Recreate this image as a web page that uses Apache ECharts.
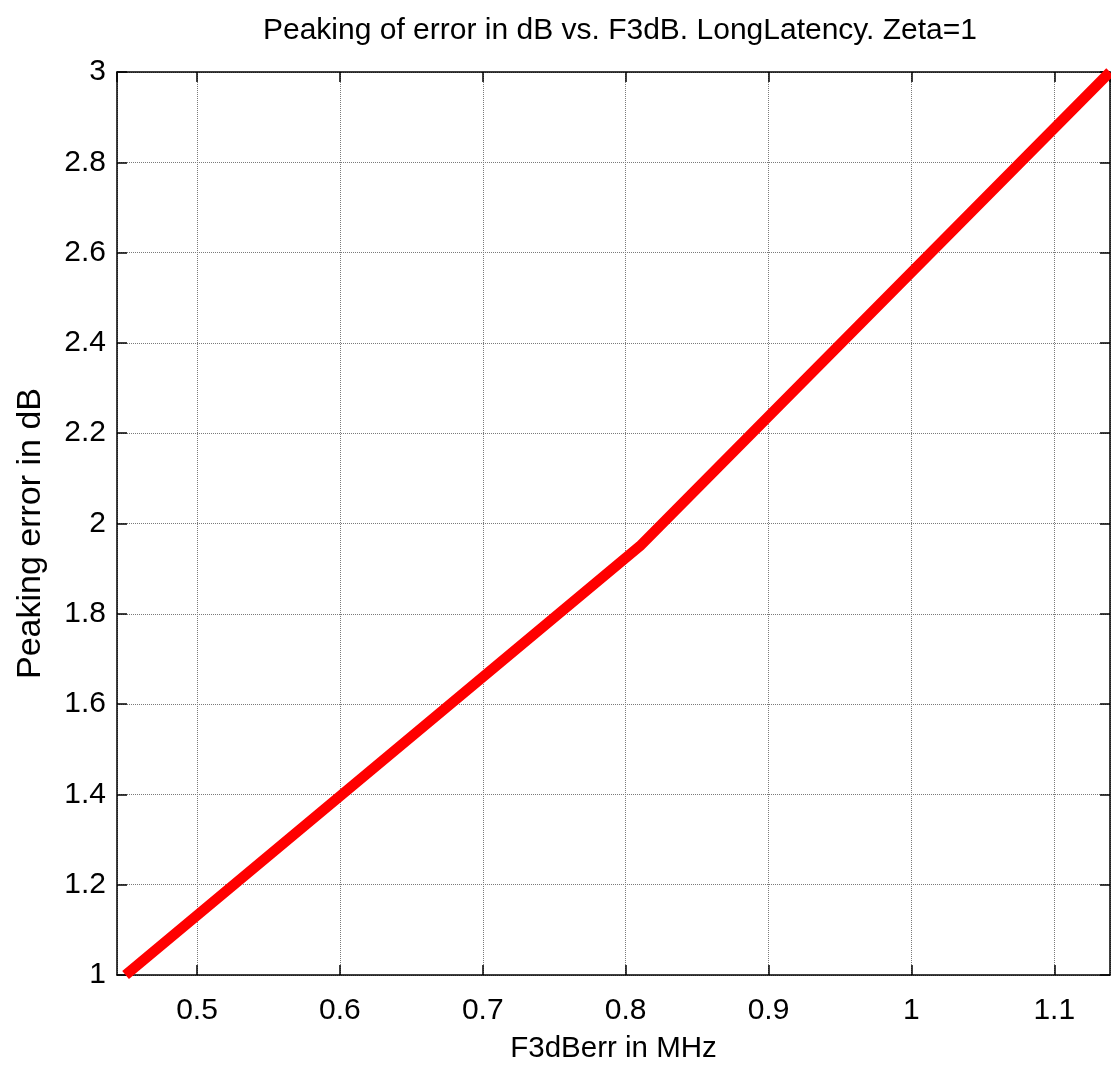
<!DOCTYPE html>
<html>
<head>
<meta charset="utf-8">
<script src="https://cdn.jsdelivr.net/npm/echarts@6/dist/echarts.min.js"></script>
<style>
  html, body { margin: 0; padding: 0; background: #fff; }
  #main { width: 1111px; height: 1069px; }
</style>
</head>
<body>
<div id="main"></div>
<script>
// F3dBerr (MHz) and peaking error (dB)
var freqMHz = [0.45, 0.81, 1.139]
var peakingDb = [1, 1.95, 3]

var xRange = [0.444, 1.139]
var yRange = [1, 3]

var font = 'Liberation Sans, Arial, sans-serif'

var lineData = freqMHz.map(function (f, i) {
  return [f, peakingDb[i]]
})

var axisLine = { show: true, onZero: false, lineStyle: { color: '#000', width: 1.5 } }
var inTick = { show: true, inside: true, length: 10, lineStyle: { color: '#000', width: 1.5 } }
var dotted = { show: true, lineStyle: { color: '#7a7a7a', width: 1, type: 'dotted' } }

var myChart = echarts.init(document.getElementById('main'))
var option = {
  animation: false,
  backgroundColor: '#fff',
  title: {
    text: 'Peaking of error in dB vs. F3dB. LongLatency. Zeta=1',
    left: 615,
    top: 11,
    textAlign: 'center',
    textStyle: { fontFamily: font, fontSize: 30, fontWeight: 'normal', color: '#000' }
  },
  grid: { left: 117, right: 1, top: 72, bottom: 86, containLabel: false },
  xAxis: [
    {
      type: 'value',
      position: 'bottom',
      min: xRange[0],
      max: xRange[1],
      splitNumber: 7,
      axisLine: axisLine,
      axisTick: inTick,
      splitLine: dotted,
      axisLabel: {
        color: '#000', fontFamily: font, fontSize: 30, margin: 21,
        showMinLabel: false, showMaxLabel: false
      },
      name: 'F3dBerr in MHz',
      nameLocation: 'middle',
      nameGap: 59,
      nameTextStyle: { color: '#000', fontFamily: font, fontSize: 29.5 }
    },
    {
      type: 'value',
      position: 'top',
      min: xRange[0],
      max: xRange[1],
      splitNumber: 7,
      axisLine: axisLine,
      axisTick: inTick,
      splitLine: { show: false },
      axisLabel: { show: false }
    }
  ],
  yAxis: [
    {
      type: 'value',
      position: 'left',
      min: yRange[0],
      max: yRange[1],
      interval: 0.2,
      axisLine: axisLine,
      axisTick: inTick,
      splitLine: dotted,
      axisLabel: { color: '#000', fontFamily: font, fontSize: 30, margin: 11 },
      name: 'Peaking error in dB',
      nameLocation: 'middle',
      nameGap: 69,
      nameRotate: 90,
      nameTextStyle: { color: '#000', fontFamily: font, fontSize: 34, padding: [0, 20, 0, 0] }
    },
    {
      type: 'value',
      position: 'right',
      min: yRange[0],
      max: yRange[1],
      interval: 0.2,
      axisLine: axisLine,
      axisTick: inTick,
      splitLine: { show: false },
      axisLabel: { show: false }
    }
  ],
  series: [
    {
      type: 'line',
      data: lineData,
      symbol: 'none',
      clip: true,
      lineStyle: { color: '#ff0000', width: 10.5 }
    }
  ]
}
myChart.setOption(option)
</script>
</body>
</html>
